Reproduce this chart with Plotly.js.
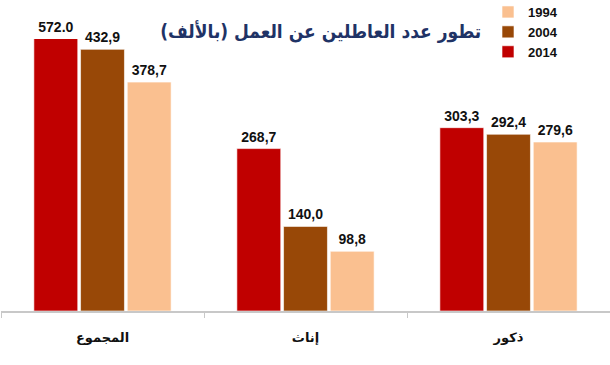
<!DOCTYPE html>
<html>
<head>
<meta charset="utf-8">
<script src="https://cdn.plot.ly/plotly-3.0.1.min.js"></script>
<style>html,body{margin:0;padding:0;background:#fff;}#chart{width:610px;height:365px;}</style>
</head>
<body>
<div id="chart"></div>
<script>
var categories = ['المجموع', 'إناث', 'ذكور'];
var years = ['2014', '2004', '1994'];
var values2014 = [572.0, 268.7, 303.3];
var values2004 = [432.9, 140.0, 292.4];
var values1994 = [378.7, 98.8, 279.6];
var labels2014 = ['572.0', '268,7', '303,3'];
var labels2004 = ['432,9', '140,0', '292,4'];
var labels1994 = ['378,7', '98,8', '279,6'];
var colors = ['#C00000', '#984807', '#FAC090'];
var yMax = 450;

var series = [values2014, values2004, values1994];
var labels = [labels2014, labels2004, labels1994];
var FONT = 'Liberation Sans, Arial, DejaVu Sans, sans-serif';

var traces = [];
series.forEach(function (vals, i) {
  traces.push({
    type: 'bar', name: years[i], x: categories, y: vals,
    offsetgroup: years[i], alignmentgroup: 'a',
    marker: {color: colors[i], line: {color: 'rgba(255,255,255,0.6)', width: 1}},
    hoverinfo: 'skip'
  });
});
series.forEach(function (vals, i) {
  traces.push({
    type: 'scatter', mode: 'markers+text', showlegend: false,
    x: categories, y: vals.map(function (v) { return Math.min(v, yMax); }),
    offsetgroup: years[i], alignmentgroup: 'a',
    marker: {size: 4, opacity: 0},
    text: labels[i], textposition: 'top center',
    textfont: {family: FONT, size: 14, color: '#111', weight: 'bold'},
    cliponaxis: false, hoverinfo: 'skip'
  });
});

var layout = {
  width: 610, height: 365,
  margin: {l: 1, r: 0, t: 38.5, b: 54, autoexpand: false},
  paper_bgcolor: '#fff', plot_bgcolor: '#fff',
  barmode: 'group', bargap: 0.31, bargroupgap: 0.06,
  scattermode: 'group', scattergap: 0.31,
  showlegend: true,
  title: {
    text: '<b>تطور عدد العاطلين عن العمل (بالألف)</b>',
    font: {family: 'DejaVu Sans Condensed, DejaVu Sans, sans-serif', size: 19, color: '#1F3366'},
    x: 0.525, xanchor: 'center', xref: 'paper',
    y: 0.915, yanchor: 'middle', yref: 'container'
  },
  legend: {
    traceorder: 'reversed',
    xref: 'container', yref: 'container',
    x: 0.8, xanchor: 'left', y: 1.0, yanchor: 'top',
    font: {family: FONT, size: 13, color: '#111', weight: 'bold'},
    itemwidth: 30, tracegroupgap: 0, bgcolor: 'rgba(0,0,0,0)',
    borderwidth: 0
  },
  xaxis: {
    type: 'category', showline: true, linecolor: '#C8C8C8', linewidth: 1.5,
    ticks: 'outside', tickson: 'boundaries', ticklen: 5, tickcolor: '#C8C8C8', tickwidth: 1,
    showgrid: false, zeroline: false, ticklabelstandoff: 14,
    tickfont: {family: FONT, size: 13, color: '#111', weight: 'bold'},
    fixedrange: true
  },
  yaxis: {range: [0, yMax], visible: false, showgrid: false, zeroline: false, fixedrange: true}
};

Plotly.newPlot('chart', traces, layout, {displayModeBar: false, staticPlot: true}).then(function () {
  // nudge legend slightly upward to match reference spacing
  var lg = document.querySelector('.legend');
  if (lg) {
    var t = lg.getAttribute('transform');
    var m = /translate\(([-\d.]+),\s*([-\d.]+)\)/.exec(t);
    if (m) lg.setAttribute('transform', 'translate(' + m[1] + ',' + (parseFloat(m[2]) - 3) + ')');
  }
});
</script>
</body>
</html>
